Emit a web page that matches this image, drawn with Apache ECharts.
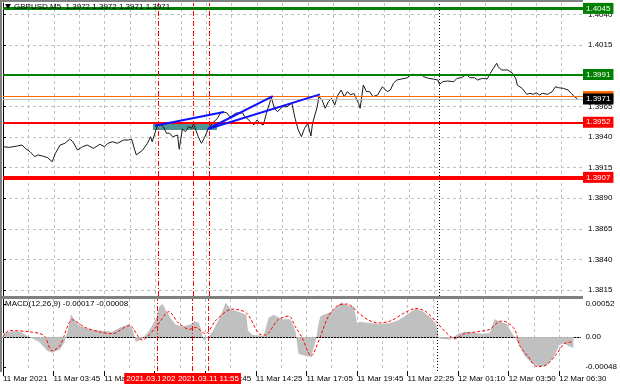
<!DOCTYPE html>
<html><head><meta charset="utf-8">
<script src="https://cdn.jsdelivr.net/npm/echarts@6/dist/echarts.min.js"></script>
<style>html,body{margin:0;padding:0;background:#fff}#c{width:620px;height:388px}</style>
</head><body><div id="c"></div>
<script>
// ---- data (x = M5 bar index from 11 Mar 2021 00:00) ----
const timeLabels = ["11 Mar 2021","11 Mar 03:45","11 Mar 06:25","11 Mar 09:05","11 Mar 11:45","11 Mar 14:25","11 Mar 17:05","11 Mar 19:45","11 Mar 22:25","12 Mar 01:10","12 Mar 03:50","12 Mar 06:30"];
const priceTicks = [1.3815,1.3840,1.3865,1.3890,1.3915,1.3940,1.3965,1.3990,1.4015,1.4040];
const priceBars = [0,4,9,12,14,17,20,22,25,28,31,33,36,39,42,44,47,50,53,57,61,64,66,69,72,76,79,81,83,84,88,91,93,94,96,97,99,101,103,105,107,110,111,113,115,117,119,120,123,125,127,129,132,135,137,139,141,143,145,147,151,152,156,158,160,162,164,166,168,169,171,173,176,179,182,184,186,188,190,192,194,195,198,199,201,203,205,207,209,211,213,215,217,219,221,224,225,227,229,231,233,236,239,242,244,246,248,251,255,256,258,261,263,265,268,271,274,275,277,280,284,286,289,292,294,297,299,302,305,307,309,311,312,314,318,321,323,324,327,330,332,334,336,338,340,343,346,348,350,353,356,358,360,362];
const prices = [1.39320,1.39315,1.39326,1.39334,1.39307,1.39280,1.39239,1.39253,1.39244,1.39231,1.39198,1.39266,1.39334,1.39348,1.39383,1.39361,1.39293,1.39320,1.39334,1.39307,1.39340,1.39320,1.39348,1.39361,1.39348,1.39375,1.39375,1.39383,1.39293,1.39253,1.39293,1.39348,1.39402,1.39361,1.39443,1.39484,1.39503,1.39484,1.39430,1.39430,1.39402,1.39416,1.39300,1.39465,1.39443,1.39484,1.39471,1.39511,1.39402,1.39348,1.39395,1.39457,1.39514,1.39550,1.39596,1.39604,1.39596,1.39563,1.39579,1.39596,1.39596,1.39571,1.39524,1.39498,1.39538,1.39511,1.39498,1.39596,1.39677,1.39724,1.39634,1.39606,1.39647,1.39647,1.39675,1.39552,1.39457,1.39402,1.39471,1.39511,1.39408,1.39511,1.39647,1.39729,1.39702,1.39634,1.39688,1.39716,1.39661,1.39743,1.39783,1.39729,1.39770,1.39743,1.39756,1.39675,1.39634,1.39824,1.39770,1.39770,1.39729,1.39743,1.39810,1.39770,1.39783,1.39838,1.39865,1.39873,1.39884,1.39906,1.39912,1.39900,1.39912,1.39892,1.39879,1.39873,1.39865,1.39830,1.39851,1.39857,1.39851,1.39879,1.39884,1.39912,1.39884,1.39884,1.39865,1.39879,1.39873,1.39920,1.39961,1.40002,1.39974,1.39947,1.39947,1.39920,1.39879,1.39824,1.39797,1.39748,1.39756,1.39748,1.39761,1.39743,1.39756,1.39748,1.39770,1.39810,1.39802,1.39797,1.39783,1.39756,1.39729,1.39710];
const histBars = [0,6,11,15,19,23,28,31,36,39,41,43,45,48,55,61,69,74,80,82,84,87,91,94,97,99,101,103,106,109,113,116,119,121,124,126,127,130,133,137,141,144,149,154,155,158,165,168,171,177,182,185,187,191,195,198,200,201,208,214,218,222,224,226,232,239,245,250,256,261,266,271,274,276,283,288,292,297,303,308,311,315,319,321,325,330,334,338,343,346,349,352,355,358,361];
const histVals = [0.00006,0.00009,0.00008,0.00002,-0.00003,-0.00008,-0.00022,-0.00025,-0.00020,-0.00008,0.00010,0.00036,0.00028,0.00018,0.00012,0.00010,0.00008,0.00015,0.00020,0.00012,-0.00008,-0.00005,0.00005,0.00016,0.00030,0.00048,0.00052,0.00042,0.00030,0.00020,0.00016,0.00018,0.00020,0.00025,0.00022,0.00005,-0.00006,0.00000,0.00010,0.00030,0.00054,0.00044,0.00040,0.00035,0.00010,0.00003,0.00002,0.00030,0.00035,0.00028,0.00028,0.00010,-0.00027,-0.00030,-0.00032,-0.00005,0.00025,0.00033,0.00040,0.00055,0.00050,0.00048,0.00022,0.00024,0.00022,0.00020,0.00022,0.00026,0.00036,0.00045,0.00040,0.00030,0.00020,-0.00003,-0.00004,0.00005,0.00008,0.00007,0.00005,0.00006,0.00028,0.00024,0.00020,0.00010,-0.00005,-0.00030,-0.00040,-0.00046,-0.00047,-0.00040,-0.00030,-0.00013,-0.00010,-0.00015,-0.00017];
const sigBars = [0,4,17,26,31,36,44,52,61,69,80,88,97,105,111,118,122,128,135,145,154,162,166,174,181,185,189,195,200,206,212,218,225,231,237,245,254,261,267,273,280,286,292,300,308,315,319,324,327,332,338,344,351,355,360];
const sigVals = [0,0.0001,0.00008,0.00002,-0.00022,-0.00014,0.00027,0.00015,0.00008,0.00005,0.00018,-0.00005,0.00016,0.0004,0.00022,0.00012,0.00015,0.00005,0.00027,0.00044,0.00038,0.00005,0.00003,0.00027,0.00033,0.00016,0,-0.0003,-0.00005,0.00033,0.0005,0.00052,0.00038,0.00027,0.00022,0.00025,0.00038,0.00045,0.00041,0.00027,0.00008,-0.00003,0.00005,0.00008,0.00012,0.00025,0.00023,0.00011,-0.00014,-0.0003,-0.00047,-0.00044,-0.00025,-0.00011,-0.00008];
const macdTicks = [-0.00048,0,0.00052];
const levelPrices = [1.4045,1.3991,1.3973,1.3971,1.3952,1.3907];
const levelKinds = ['greenBold','green','orange','bid','red','redBold'];
const vLineBars = [97.5,120,130];
const vLineTexts = ['2021.03.11 09:15','2021.03.11 11:05','2021.03.11 11:55'];
const daySepBar = 275;
const trendStarts = [[95.7,1.39491],[129.1,1.39465],[129.1,1.39465]];
const trendEnds = [[139.2,1.39604],[170,1.39734],[199.7,1.39748]];
const zoneBars = [94.5,134.8];
const zonePrices = [1.39516,1.39457];
const titleText = 'GBPUSD,M5  1.3972 1.3972 1.3971 1.3971';
const macdText = 'MACD(12,26,9) -0.00017 -0.00008';

// ---- build ----
const FONT = 'Liberation Sans';
const X_MAX = 365.4;
const gridVals = []; for (let v = 0; v <= X_MAX; v += 16) gridVals.push(v);
const labelVals = timeLabels.map((_, i) => i * 32);
const styles = {
  greenBold:{c:'#008000',w:3,bg:'#008000'}, green:{c:'#008000',w:2,bg:'#008000'},
  orange:{c:'#ff6a00',w:1,bg:'#ff6a00'}, bid:{c:'#c0c0c0',w:1,bg:'#000000'},
  red:{c:'#ff0000',w:2,bg:'#ff0000'}, redBold:{c:'#ff0000',w:4,bg:'#ff0000'}
};
const gridLine = {show:true, lineStyle:{color:'#c0c0c0', type:[3,3], width:1}};
const redDash = {color:'#ff0000', width:1, type:[5,2,1,2]};
const blackDot = {color:'#000000', width:1, type:[1,2]};

const mainMarks = [];
levelPrices.forEach((p, i) => {
  const s = styles[levelKinds[i]];
  mainMarks.push({yAxis:p, lineStyle:{color:s.c, width:s.w, type:'solid'},
    label:{show:true, position:'end', distance:0, formatter:p.toFixed(4), color:'#fff',
      backgroundColor:s.bg, padding:[2,3,1,3], fontSize:8, fontFamily:FONT}});
});
vLineBars.forEach(b => mainMarks.push({xAxis:b, lineStyle:redDash, label:{show:false}}));
mainMarks.push({xAxis:daySepBar, lineStyle:blackDot, label:{show:false}});
trendStarts.forEach((s, i) => mainMarks.push([
  {coord:s, lineStyle:{color:'#1010ff', width:2, type:'solid'}, label:{show:false}},
  {coord:trendEnds[i]}
]));

const macdMarks = [{yAxis:0, lineStyle:{color:'#a0a0a0', width:1, type:[1,2]}, label:{show:false}}];
vLineBars.forEach((b, i) => macdMarks.push({xAxis:b, lineStyle:redDash,
  label:{show:true, position:'start', distance:2, formatter:vLineTexts[i], color:'#fff',
    backgroundColor:'#ff0000', padding:[2,2,1,2], fontSize:8, fontFamily:FONT}}));
macdMarks.push({xAxis:daySepBar, lineStyle:blackDot, label:{show:false}});

const option = {
  animation:false,
  grid:[{left:3, top:3, width:580, height:293}, {left:3, top:299, width:580, height:72}],
  xAxis:[
    {gridIndex:0, type:'value', min:0, max:X_MAX, axisLine:{show:false},
     axisTick:{show:false, customValues:gridVals}, axisLabel:{show:false}, splitLine:gridLine},
    {gridIndex:1, type:'value', min:0, max:X_MAX, axisLine:{show:true, lineStyle:{color:'#000'}},
     axisTick:{show:false, customValues:gridVals},
     axisLabel:{show:true, customValues:labelVals, align:'left', margin:4, color:'#000',
       fontSize:8, fontFamily:FONT, formatter:v => timeLabels[Math.round(v/32)] || ''},
     splitLine:gridLine},
    {gridIndex:1, type:'value', min:0, max:X_MAX, position:'bottom', axisLine:{show:false},
     axisTick:{show:true, customValues:labelVals, length:5, lineStyle:{color:'#000'}},
     axisLabel:{show:false}, splitLine:{show:false}}
  ],
  yAxis:[
    {gridIndex:0, type:'value', position:'right', min:1.38101, max:1.40494,
     axisLine:{show:true, lineStyle:{color:'#000'}},
     axisTick:{show:true, customValues:priceTicks, length:3, lineStyle:{color:'#000'}},
     axisLabel:{customValues:priceTicks, formatter:v => v.toFixed(4), color:'#000', fontSize:8, fontFamily:FONT, margin:5},
     splitLine:gridLine},
    {gridIndex:1, type:'value', position:'right', min:-0.00054, max:0.0006,
     axisLine:{show:true, lineStyle:{color:'#000'}},
     axisTick:{show:true, customValues:macdTicks, length:3, lineStyle:{color:'#000'}},
     axisLabel:{customValues:macdTicks, formatter:v => v === 0 ? '0.00' : v.toFixed(5), color:'#000', fontSize:8, fontFamily:FONT, margin:5},
     splitLine:{show:false}}
  ],
  series:[
    {type:'line', xAxisIndex:0, yAxisIndex:0, z:3, symbol:'none',
     data:priceBars.map((b, i) => [b, prices[i]]),
     lineStyle:{color:'#1a1a1a', width:1},
     markLine:{silent:true, precision:6, symbol:['none','none'], data:mainMarks},
     markArea:{silent:true, itemStyle:{color:'#4e9693'},
       data:[[{xAxis:zoneBars[0], yAxis:zonePrices[0]}, {xAxis:zoneBars[1], yAxis:zonePrices[1]}]]}},
    {type:'line', xAxisIndex:1, yAxisIndex:1, symbol:'none',
     data:histBars.map((b, i) => [b, histVals[i]]),
     lineStyle:{width:0}, areaStyle:{color:'#c0c0c0', opacity:1},
     markLine:{silent:true, precision:6, symbol:['none','none'], data:macdMarks}},
    {type:'line', xAxisIndex:1, yAxisIndex:1, symbol:'none', smooth:0.3, z:4,
     data:sigBars.map((b, i) => [b, sigVals[i]]),
     lineStyle:{color:'#ff0000', width:1, type:[3,2]}}
  ],
  graphic:[
    {type:'rect', z:10, shape:{x:0, y:0, width:583, height:2}, style:{fill:'#808080'}},
    {type:'rect', z:10, shape:{x:0, y:0, width:2, height:372}, style:{fill:'#808080'}},
    {type:'rect', z:10, shape:{x:0, y:296, width:583, height:3}, style:{fill:'#808080'}},
    {type:'polygon', z:10, shape:{points:[[5,4],[11,4],[8,9]]}, style:{fill:'#000'}},
    {type:'text', z:10, left:14, top:3, style:{text:titleText, fill:'#000', font:'8px "Liberation Sans"'}},
    {type:'text', z:10, left:5, top:300, style:{text:macdText, fill:'#000', font:'8px "Liberation Sans"'}}
  ]
};
const chart = echarts.init(document.getElementById('c'));
chart.setOption(option);
</script></body></html>
